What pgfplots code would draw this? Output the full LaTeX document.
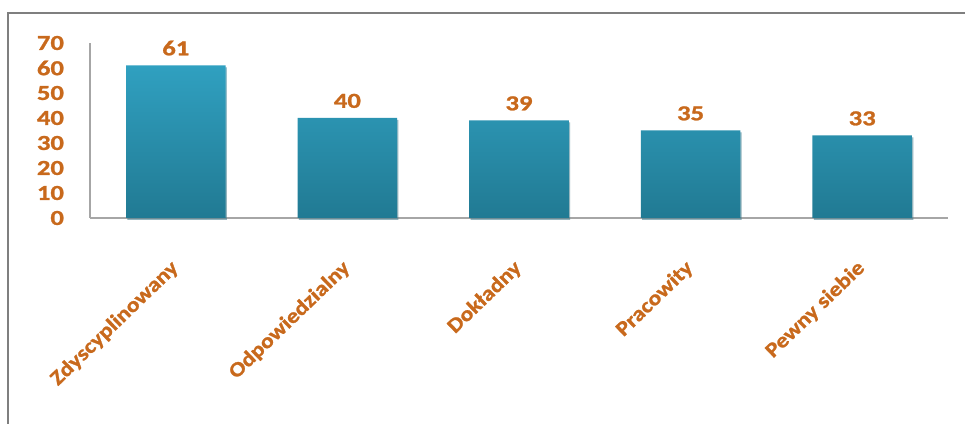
\documentclass[border=0pt]{standalone}
\usepackage{pgfplots}
\pgfplotsset{compat=1.18}
\usepackage{fontspec}
\setmainfont{Carlito}
\newfontfamily\labA[FakeStretch=1.25, FakeBold=1.2]{Carlito}
\newfontfamily\labB[FakeStretch=1.15, FakeBold=1.2]{Carlito}
\usetikzlibrary{shadows}
\definecolor{lab}{HTML}{C8691C}
\definecolor{bartop}{HTML}{30A0C0}
\definecolor{barbot}{HTML}{217A93}
\definecolor{frame}{HTML}{7F7F7F}
\definecolor{axl}{HTML}{A6A6A6}
\begin{document}
\begin{tikzpicture}
\useasboundingbox (0,0) rectangle (723.75pt,318pt);
\draw[frame, line width=1.6pt] (6pt,0) -- (6pt,308.25pt) -- (723.75pt,308.25pt);
\begin{axis}[
  at={(67.5pt,154.5pt)}, anchor=south west,
  scale only axis, width=643.5pt, height=131.25pt,
  ymin=0, ymax=70, xmin=-0.5, xmax=4.5,
  ytick={0,10,...,70},
  xtick={0,1,2,3,4},
  xticklabels={Zdyscyplinowany,Odpowiedzialny,Dokładny,Pracowity,Pewny siebie},
  axis x line*=bottom, axis y line*=left,
  axis line style={axl, line width=0.8pt, -},
  tick style={draw=none},
  major tick length=0pt,
  /pgf/number format/assume math mode=true,
  yticklabel style={font=\labA\fontsize{16}{18}\selectfont\bfseries, text=lab, xshift=-16pt},
  xticklabel style={font=\labB\fontsize{15.5}{18}\selectfont\bfseries, text=lab, yshift=-35pt, rotate=44, anchor=east, xshift=3pt},
  ybar, bar width=0.58,
  nodes near coords,
  nodes near coords style={font=\labA\fontsize{16}{18}\selectfont\bfseries, text=lab, yshift=4pt},
  clip=false,
]
\addplot[draw=none, top color=bartop, bottom color=barbot, drop shadow={opacity=0.35, shadow xshift=1pt, shadow yshift=-1.5pt}]
  coordinates {(0,61) (1,40) (2,39) (3,35) (4,33)};
\end{axis}
\end{tikzpicture}
\end{document}
